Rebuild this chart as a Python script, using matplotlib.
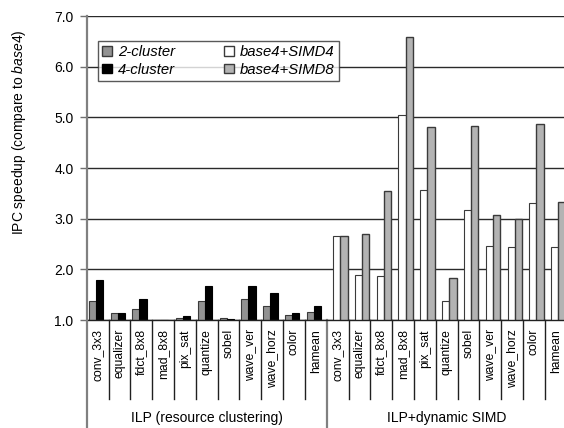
import matplotlib.pyplot as plt
from matplotlib.patches import Patch

plt.rcParams['font.family'] = ['Liberation Sans', 'DejaVu Sans']
plt.rcParams['mathtext.fontset'] = 'custom'
plt.rcParams['mathtext.it'] = 'Liberation Sans:italic'
plt.rcParams['mathtext.rm'] = 'Liberation Sans'

benchmarks = ['conv_3x3', 'equalizer', 'fdct_8x8', 'mad_8x8', 'pix_sat', 'quantize',
              'sobel', 'wave_ver', 'wave_horz', 'color', 'hamean']

# ILP (resource clustering)
cluster2 = [1.37, 1.13, 1.21, 1.00, 1.04, 1.37, 1.04, 1.41, 1.28, 1.09, 1.16]
cluster4 = [1.79, 1.13, 1.41, 1.00, 1.07, 1.67, 1.02, 1.67, 1.53, 1.13, 1.27]

# ILP+dynamic SIMD
simd4 = [2.66, 1.88, 1.87, 5.05, 3.57, 1.37, 3.17, 2.47, 2.45, 3.31, 2.45]
simd8 = [2.66, 2.69, 3.54, 6.59, 4.80, 1.83, 4.82, 3.08, 3.00, 4.87, 3.33]

group_names = ['ILP (resource clustering)', 'ILP+dynamic SIMD']
yticks = [1.0, 2.0, 3.0, 4.0, 5.0, 6.0, 7.0]

n = len(benchmarks)
left_x = list(range(n))
right_x = [i + n for i in range(n)]
labels = benchmarks + benchmarks

fig = plt.figure(figsize=(5.64, 4.28), dpi=100)
ax = fig.add_axes([86.7 / 564, 108 / 428, 480 / 564, 304 / 428])

w = 0.33
ax.bar([x - 0.408 for x in left_x], cluster2, width=w, align='edge',
       color='#929292', edgecolor='#3a3a3a', linewidth=0.8, zorder=3)
ax.bar([x - 0.085 for x in left_x], cluster4, width=w, align='edge',
       color='black', edgecolor='black', linewidth=0.8, zorder=3)
ax.bar([x - 0.211 for x in right_x], simd4, width=w, align='edge',
       color='white', edgecolor='#3a3a3a', linewidth=0.8, zorder=3)
ax.bar([x + 0.115 for x in right_x], simd8, width=0.34, align='edge',
       color='#b3b3b3', edgecolor='#3a3a3a', linewidth=1.0, zorder=3)

ax.set_xlim(-0.5, 2 * n - 0.5)
ax.set_ylim(1.0, 7.0)
ax.set_yticks(yticks)
ax.set_yticklabels(['%.1f' % t for t in yticks], fontsize=10)
ax.tick_params(axis='y', length=5, width=1, color='#707070', pad=4.5)
ax.set_xticks([])
ax.grid(axis='y', color='#2a2a2a', linewidth=1.0, zorder=0)

for s in ['top', 'right', 'left']:
    ax.spines[s].set_visible(False)
ax.spines['bottom'].set_color('#202020')
ax.spines['bottom'].set_linewidth(1.0)
ax.spines['bottom'].set_zorder(4)

ax.set_ylabel('IPC speedup (compare to $\\it{base4}$)', fontsize=10)
ax.yaxis.set_label_coords(-0.122, 0.617)

# category labels and separators under the axis
trans = ax.get_xaxis_transform()
sep_bottom = -79 / 304
for i, name in enumerate(labels):
    ax.text(i, -9 / 304, name, transform=trans, rotation=90, ha='center', va='top',
            fontsize=8.7)
    if i > 0 and i != n:
        ax.plot([i - 0.5, i - 0.5], [0, sep_bottom], transform=trans, color='#202020',
                linewidth=1.0, clip_on=False)

# left spine and group divider run to the bottom edge
ax.plot([-0.5, -0.5], [1.0, -0.4], transform=trans, color='#808080', linewidth=1.6,
        clip_on=False, zorder=5)
ax.plot([n - 0.5, n - 0.5], [0, -0.4], transform=trans, color='#808080', linewidth=1.6,
        clip_on=False)

ax.text((n - 1) / 2, -98 / 304, group_names[0], transform=trans, ha='center',
        va='center', fontsize=10)
ax.text(n + (n - 1) / 2, -98 / 304, group_names[1], transform=trans, ha='center',
        va='center', fontsize=10)

handles = [Patch(facecolor='#929292', edgecolor='#3a3a3a', label='2-cluster'),
           Patch(facecolor='black', edgecolor='black', label='4-cluster'),
           Patch(facecolor='white', edgecolor='#3a3a3a', label='base4+SIMD4'),
           Patch(facecolor='#b3b3b3', edgecolor='#3a3a3a', label='base4+SIMD8')]
leg = ax.legend(handles=handles, ncol=2, loc='upper left',
                bbox_to_anchor=(98 / 564, 1 - 41 / 428), bbox_transform=fig.transFigure,
                prop={'style': 'italic', 'size': 10.7}, frameon=True, fancybox=False,
                handlelength=0.65, handleheight=0.65, handletextpad=0.4,
                columnspacing=3.3, borderpad=0.3, labelspacing=0.22, borderaxespad=0)
leg.get_frame().set_edgecolor('#303030')
leg.get_frame().set_linewidth(1.0)
leg.set_zorder(6)

fig.savefig('out.png', dpi=100)
